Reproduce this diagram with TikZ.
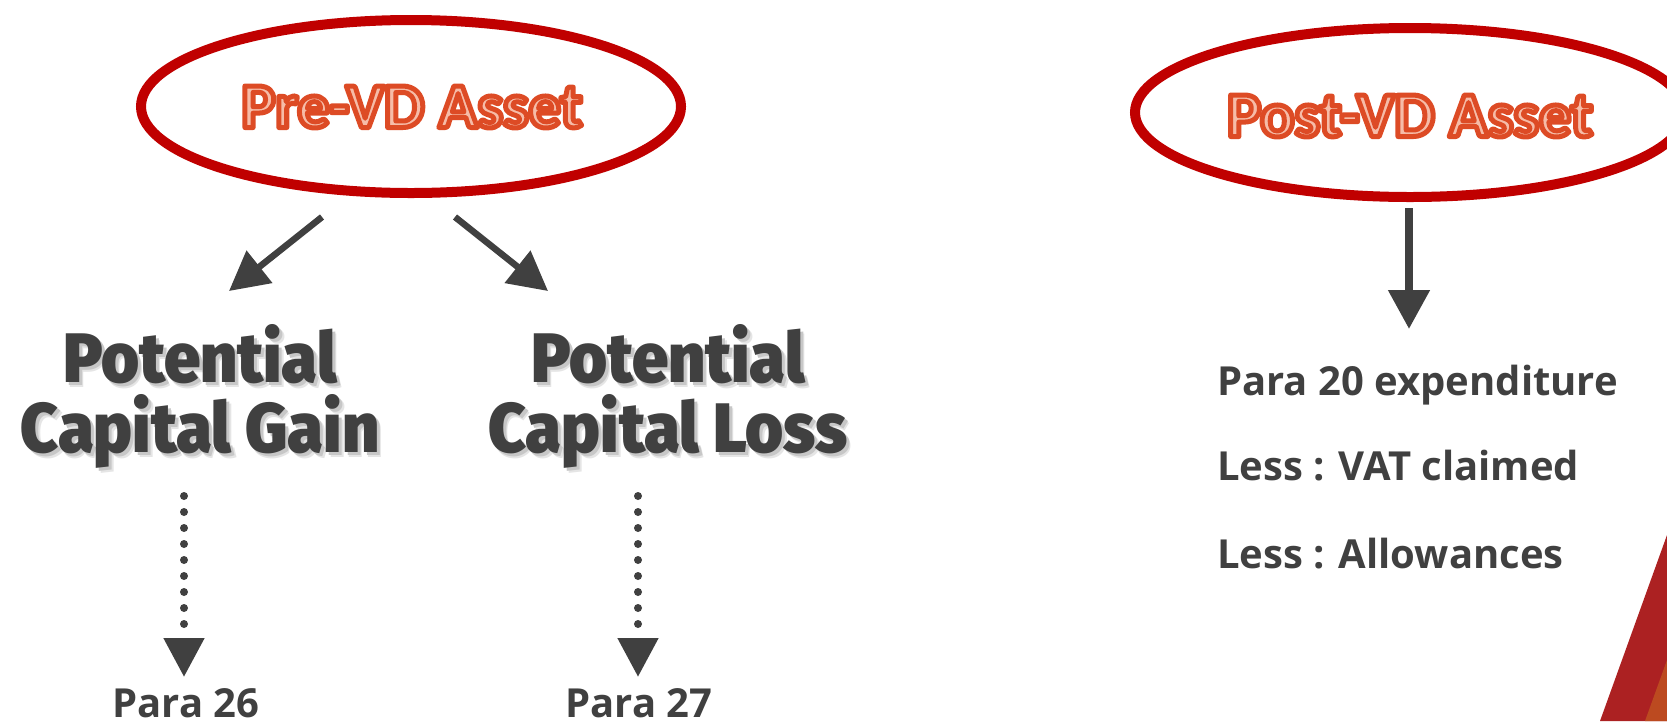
\documentclass[tikz,border=0pt]{standalone}
\usepackage{fontspec}
\usetikzlibrary{shapes.geometric,arrows.meta}
\setmainfont{Open Sans}
\newfontfamily\titlefont{Carlito}
\newfontfamily\heavyfont{Fira Sans Black}[FakeStretch=0.93]

\definecolor{ringred}{HTML}{C00000}
\definecolor{titlepink}{HTML}{F6BCA8}
\definecolor{inkgrey}{HTML}{404040}
\definecolor{cornerred}{HTML}{AC2122}
\definecolor{cornerorange}{HTML}{BC4A20}

% outlined WordArt-style title: pale fill, orange stroke (fill+stroke render mode)
\newcommand\outlinetitle[1]{\textcolor{titlepink}{%
  \special{pdf:code 2 Tr 5 w 1 j 0.867 0.294 0.145 RG}#1\special{pdf:code 0 Tr}}}
% heavy headline with a soft drop shadow
\newcommand\shadowline[1]{\leavevmode
  \rlap{\raisebox{-4.5pt}{\kern4.5pt\textcolor{black!10}{#1}}}%
  \rlap{\raisebox{-3pt}{\kern3pt\textcolor{black!22}{#1}}}%
  #1}

\begin{document}
\begin{tikzpicture}[x=1pt,y=-1pt,
  ring/.style={ellipse, draw=ringred, line width=10pt, inner sep=0pt},
  title/.style={font=\titlefont\bfseries\fontsize{64}{66}\selectfont},
  headline/.style={align=center, text=inkgrey,
    font=\heavyfont\fontsize{70}{70}\selectfont},
  bodytext/.style={text=inkgrey, inner sep=0pt,
    font=\bfseries\fontsize{40}{44}\selectfont},
  bigarrow/.style={draw=inkgrey, line width=6.5pt,
    -{Triangle[length=39pt,width=40pt]}},
  dotarrow/.style={draw=inkgrey, line width=8pt, line cap=round,
    dash pattern=on 0pt off 16pt,
    -{Triangle[length=39pt,width=39pt]}}]

\useasboundingbox (0,0) rectangle (1667,721);
\fill[white] (0,0) rectangle (1667,721);

% corner decoration
\fill[cornerred] (1600,721) -- (1667,535) -- (1667,721) -- cycle;
\fill[cornerorange] (1645,721) -- (1667,660) -- (1667,721) -- cycle;

% asset ellipses
\node[ring, minimum width=540pt, minimum height=173pt] (pre) at (411,106.5) {};
\node[title] (pretext) at (412,107) {\outlinetitle{Pre-VD Asset}};
\node[ring, minimum width=550pt, minimum height=169pt] (post) at (1410,112.5) {};
\node[title] (posttext) at (1410,116) {\outlinetitle{Post-VD Asset}};

% headlines
\node[headline] (gain) at (200,399) {\shadowline{Potential}\\\shadowline{Capital Gain}};
\node[headline] (loss) at (668,399) {\shadowline{Potential}\\\shadowline{Capital Loss}};

% paragraph references
\node[bodytext, anchor=base] (p26) at (186,717) {Para 26};
\node[bodytext, anchor=base] (p27) at (639,717) {Para 27};
\node[bodytext, anchor=base west] (l1) at (1217,395) {Para 20 expenditure};
\node[bodytext, anchor=base west] (l2) at (1217,480) {Less : VAT claimed};
\node[bodytext, anchor=base west] (l3) at (1217,568) {Less : Allowances};

% connectors
\coordinate (gs) at (322,217);
\coordinate (gt) at (229,291);
\coordinate (ls) at (455,217);
\coordinate (lt) at (548,291);
\coordinate (pt) at (1409,329);
\draw[bigarrow] (gs) -- (gt);
\draw[bigarrow] (ls) -- (lt);
\draw[bigarrow, line width=8pt] ([yshift=-6pt]post.south -| pt) -- (pt);

\coordinate (gd) at (184,496);
\coordinate (ld) at (638,496);
\draw[dotarrow] (gd) -- (gd |- 0,677);
\draw[dotarrow] (ld) -- (ld |- 0,677);
\end{tikzpicture}
\end{document}
